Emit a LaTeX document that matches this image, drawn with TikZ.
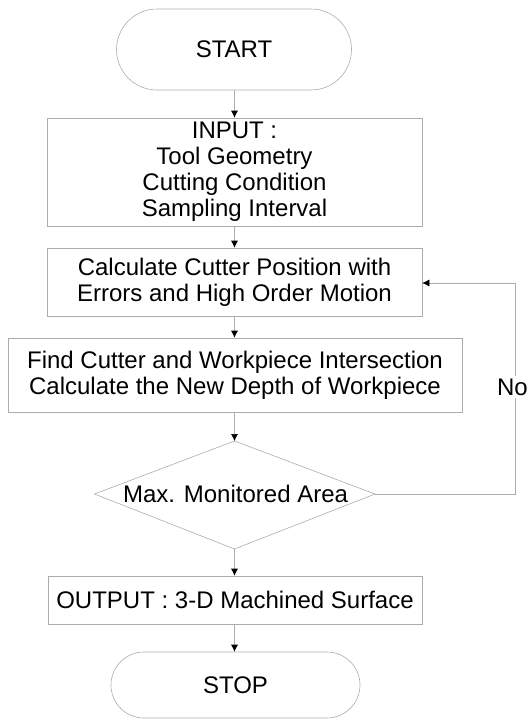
\documentclass[tikz,border=0pt]{standalone}
\usepackage{fontspec}
\setmainfont{Liberation Sans}
\usetikzlibrary{arrows.meta,shapes.misc}
\newcommand{\fcfont}{\fontsize{24}{26}\selectfont}
\begin{document}
\begin{tikzpicture}[x=1pt,y=-1pt,
  outline/.style={draw=gray!65, line width=0.6pt},
  boxnode/.style={outline, rectangle, inner sep=0pt, align=center, font=\fcfont, text=black},
  termnode/.style={outline, rounded rectangle, inner sep=0pt, font=\fcfont, text=black},
  txt/.style={align=center, font=\fcfont, inner sep=0pt, text=black},
  flow/.style={outline, -{Latex[length=7pt,width=7pt,color=black]}}]
\useasboundingbox (0,0) rectangle (529,720);
\coordinate (cx) at (234.5,0);

% nodes
\node[termnode, minimum width=235pt, minimum height=81pt] (start) at (234,49.5) {START};

\node[boxnode, minimum width=375pt, minimum height=108pt] (input) at (234.5,172)
  {INPUT :\\Tool Geometry\\Cutting Condition\\Sampling Interval};

\node[boxnode, minimum width=375pt, minimum height=68pt] (calc) at (234.5,282)
  {Calculate Cutter Position with\\Errors and High Order Motion};

\node[boxnode, minimum width=454pt, minimum height=74pt] (find) at (235,375)
  {Find Cutter and Workpiece Intersection\\Calculate the New Depth of Workpiece};

\coordinate (dT) at (234.5,441);
\coordinate (dR) at (375,494);
\coordinate (dB) at (234.5,549);
\coordinate (dL) at (94.5,494);
\draw[outline] (dT) -- (dR) -- (dB) -- (dL) -- cycle;
\node[txt] (dtxt) at (235.5,494) {Max. Monitored Area};

\node[boxnode, minimum width=374pt, minimum height=48pt] (output) at (235,600)
  {OUTPUT : 3-D Machined Surface};

\node[termnode, minimum width=249pt, minimum height=66pt] (stop) at (235.5,685) {STOP};

% connectors
\draw[flow] (start.south -| cx) -- (input.north -| cx);
\draw[flow] (input.south -| cx) -- (calc.north -| cx);
\draw[flow] (calc.south -| cx) -- (find.north -| cx);
\draw[flow] (find.south -| cx) -- (dT);
\draw[flow] (dB) -- (output.north -| cx);
\draw[flow] (output.south -| cx) -- (stop.north -| cx);

\coordinate (loopA) at (515,494);
\coordinate (loopB) at (515,283);
\draw[flow] (dR) -- (loopA) -- (loopB) -- (calc.east |- loopB);
\node[txt, fill=white, inner xsep=0pt, inner ysep=3pt, anchor=east] (no) at (528,387) {No};
\end{tikzpicture}
\end{document}
